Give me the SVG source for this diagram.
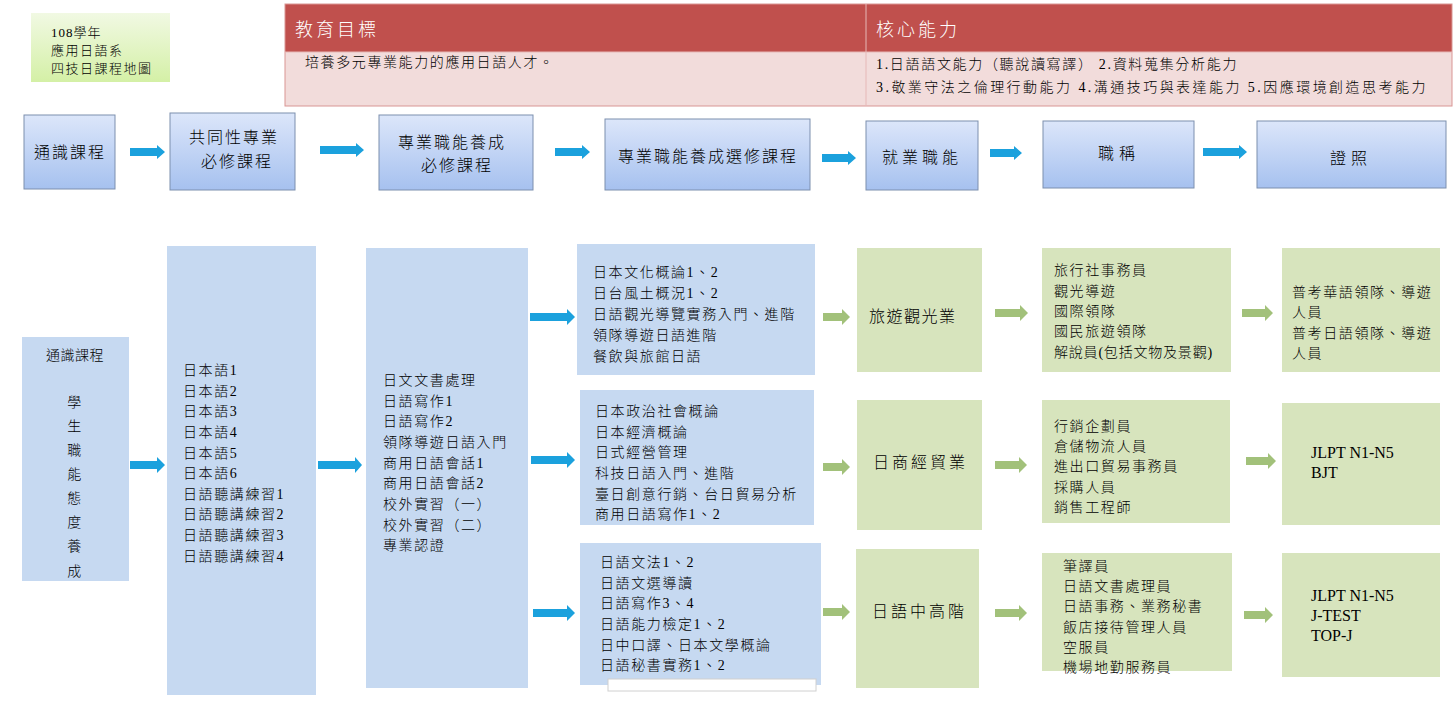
<svg xmlns="http://www.w3.org/2000/svg" width="1455" height="705" viewBox="0 0 1455 705">
<defs>
<linearGradient id="gBlue" x1="0" y1="0" x2="0" y2="1">
<stop offset="0" stop-color="#dce6fa"/>
<stop offset="1" stop-color="#a6c1ef"/>
</linearGradient>
<linearGradient id="gGreen" x1="0" y1="0" x2="0" y2="1">
<stop offset="0" stop-color="#f1f9e3"/>
<stop offset="1" stop-color="#d4f0a6"/>
</linearGradient>
<style>
text{font-family:"Liberation Serif","Noto Sans CJK TC",serif;fill:#000;font-weight:300}
.t{font-size:14px;letter-spacing:1.6px}
.big{font-size:16px;letter-spacing:2px}
.hd{font-size:18px;letter-spacing:3px;fill:#fff}
.top{fill:url(#gBlue);stroke:#7d8fae;stroke-width:1}
.pb{fill:#c6d9f1}
.pg{fill:#d7e4bd}
.ab{fill:#1ba1dd}
.ag{fill:#a2c17a}
.lat{font-size:16px;letter-spacing:0;font-weight:400}
</style>
</defs>
<rect width="1455" height="705" fill="#fff"/>

<g id="title">
<rect x="31" y="13" width="139" height="69" fill="url(#gGreen)"/>
<text x="51" y="37" style="font-size:13px;letter-spacing:1px">108學年</text>
<text x="51" y="55" style="font-size:13px;letter-spacing:1.5px">應用日語系</text>
<text x="51" y="73" style="font-size:13px;letter-spacing:1.5px">四技日課程地圖</text>
</g>

<g id="header">
<rect x="285" y="4" width="1167" height="48" fill="#c0504d"/>
<rect x="285" y="52" width="1167" height="54" fill="#f2dcdb"/>
<rect x="285" y="4" width="1167" height="102" fill="none" stroke="#d99694" stroke-width="1"/>
<line x1="285" y1="52" x2="1452" y2="52" stroke="#e6b8b7" stroke-width="1"/>
<line x1="866" y1="4" x2="866" y2="106" stroke="#e6b8b7" stroke-width="1"/>
<text class="hd" x="295" y="36">教育目標</text>
<text class="hd" x="876" y="36">核心能力</text>
<text class="t" x="305" y="67">培養多元專業能力的應用日語人才。</text>
<text class="t" x="876" y="69" textLength="362" lengthAdjust="spacing">1.日語語文能力（聽說讀寫譯） 2.資料蒐集分析能力</text>
<text class="t" x="876" y="92" textLength="551" lengthAdjust="spacing">3.敬業守法之倫理行動能力  4.溝通技巧與表達能力 5.因應環境創造思考能力</text>
</g>

<g id="n-general">
<rect class="top" x="24" y="115" width="91" height="74"/>
<text class="big" x="70" y="158" text-anchor="middle">通識課程</text>
</g>
<g id="n-common">
<rect class="top" x="170" y="113" width="125" height="77"/>
<text class="big" x="234" y="143" text-anchor="middle">共同性專業</text>
<text class="big" x="237" y="167" text-anchor="middle">必修課程</text>
</g>
<g id="n-req">
<rect class="top" x="379" y="115" width="154" height="75"/>
<text class="big" x="452" y="148" text-anchor="middle">專業職能養成</text>
<text class="big" x="457" y="171" text-anchor="middle">必修課程</text>
</g>
<g id="n-elec">
<rect class="top" x="605" y="119" width="205" height="71"/>
<text class="big" x="708" y="162" text-anchor="middle">專業職能養成選修課程</text>
</g>
<g id="n-job">
<rect class="top" x="866" y="121" width="112" height="69"/>
<text class="big" x="922" y="163" text-anchor="middle" style="letter-spacing:4px">就業職能</text>
</g>
<g id="n-title">
<rect class="top" x="1043" y="121" width="151" height="67"/>
<text class="big" x="1119" y="159" text-anchor="middle" style="letter-spacing:5px">職稱</text>
</g>
<g id="n-cert">
<rect class="top" x="1257" y="121" width="189" height="67"/>
<text class="big" x="1351" y="164" text-anchor="middle" style="letter-spacing:5px">證照</text>
</g>

<g id="c-general">
<rect class="pb" x="22" y="337" width="107" height="244"/>
<text class="t" x="75" y="360" text-anchor="middle" style="letter-spacing:0.5px">通識課程</text>
<g class="t" text-anchor="middle">
<text x="75" y="407">學</text>
<text x="75" y="431">生</text>
<text x="75" y="455">職</text>
<text x="75" y="479">能</text>
<text x="75" y="503">態</text>
<text x="75" y="527">度</text>
<text x="75" y="551">養</text>
<text x="75" y="576">成</text>
</g>
</g>

<g id="c-common">
<rect class="pb" x="167" y="246" width="149" height="449"/>
<g class="t">
<text x="183" y="375">日本語1</text>
<text x="183" y="396">日本語2</text>
<text x="183" y="416">日本語3</text>
<text x="183" y="437">日本語4</text>
<text x="183" y="458">日本語5</text>
<text x="183" y="478">日本語6</text>
<text x="183" y="499">日語聽講練習1</text>
<text x="183" y="519">日語聽講練習2</text>
<text x="183" y="540">日語聽講練習3</text>
<text x="183" y="561">日語聽講練習4</text>
</g>
</g>

<g id="c-req">
<rect class="pb" x="366" y="248" width="162" height="440"/>
<g class="t">
<text x="383" y="385">日文文書處理</text>
<text x="383" y="406">日語寫作1</text>
<text x="383" y="426">日語寫作2</text>
<text x="383" y="447">領隊導遊日語入門</text>
<text x="383" y="468">商用日語會話1</text>
<text x="383" y="488">商用日語會話2</text>
<text x="383" y="509">校外實習（一）</text>
<text x="383" y="530">校外實習（二）</text>
<text x="383" y="550">專業認證</text>
</g>
</g>

<g id="c-elec-tour">
<rect class="pb" x="577" y="244" width="238" height="131"/>
<g class="t">
<text x="593" y="277">日本文化概論1、2</text>
<text x="593" y="298">日台風土概況1、2</text>
<text x="593" y="319">日語觀光導覽實務入門、進階</text>
<text x="593" y="340">領隊導遊日語進階</text>
<text x="593" y="361">餐飲與旅館日語</text>
</g>
</g>
<g id="c-elec-trade">
<rect class="pb" x="580" y="390" width="234" height="135"/>
<g class="t">
<text x="595" y="416">日本政治社會概論</text>
<text x="595" y="437">日本經濟概論</text>
<text x="595" y="457">日式經營管理</text>
<text x="595" y="478">科技日語入門、進階</text>
<text x="595" y="499">臺日創意行銷、台日貿易分析</text>
<text x="595" y="519">商用日語寫作1、2</text>
</g>
</g>
<g id="c-elec-adv">
<rect class="pb" x="580" y="543" width="241" height="142"/>
<g class="t">
<text x="600" y="567">日語文法1、2</text>
<text x="600" y="588">日語文選導讀</text>
<text x="600" y="608">日語寫作3、4</text>
<text x="600" y="629">日語能力檢定1、2</text>
<text x="600" y="650">日中口譯、日本文學概論</text>
<text x="600" y="670">日語秘書實務1、2</text>
</g>
<rect x="608" y="679" width="208" height="12" fill="#fff" stroke="#d0d0d0" stroke-width="1"/>
</g>

<g id="j-tour">
<rect class="pg" x="857" y="248" width="125" height="124"/>
<text class="big" x="869" y="322" style="letter-spacing:1.5px">旅遊觀光業</text>
</g>
<g id="j-trade">
<rect class="pg" x="857" y="400" width="125" height="130"/>
<text class="big" x="873" y="468" style="letter-spacing:3px">日商經貿業</text>
</g>
<g id="j-adv">
<rect class="pg" x="856" y="549" width="123" height="139"/>
<text class="big" x="872" y="617" style="letter-spacing:3px">日語中高階</text>
</g>

<g id="t-tour">
<rect class="pg" x="1042" y="248" width="189" height="124"/>
<g class="t">
<text x="1054" y="275">旅行社事務員</text>
<text x="1054" y="296">觀光導遊</text>
<text x="1054" y="316">國際領隊</text>
<text x="1054" y="336">國民旅遊領隊</text>
<text x="1054" y="357" style="letter-spacing:0.8px">解說員(包括文物及景觀)</text>
</g>
</g>
<g id="t-trade">
<rect class="pg" x="1042" y="400" width="188" height="123"/>
<g class="t">
<text x="1054" y="431">行銷企劃員</text>
<text x="1054" y="451">倉儲物流人員</text>
<text x="1054" y="471">進出口貿易事務員</text>
<text x="1054" y="492">採購人員</text>
<text x="1054" y="512">銷售工程師</text>
</g>
</g>
<g id="t-adv">
<rect class="pg" x="1042" y="553" width="190" height="118"/>
<g class="t">
<text x="1063" y="571">筆譯員</text>
<text x="1063" y="591">日語文書處理員</text>
<text x="1063" y="611">日語事務、業務秘書</text>
<text x="1063" y="632">飯店接待管理人員</text>
<text x="1063" y="652">空服員</text>
<text x="1063" y="672">機場地勤服務員</text>
</g>
</g>

<g id="p-tour">
<rect class="pg" x="1282" y="248" width="158" height="124"/>
<g class="t">
<text x="1292" y="297">普考華語領隊、導遊</text>
<text x="1292" y="317">人員</text>
<text x="1292" y="338">普考日語領隊、導遊</text>
<text x="1292" y="358">人員</text>
</g>
</g>
<g id="p-trade">
<rect class="pg" x="1282" y="403" width="158" height="122"/>
<text class="lat" x="1311" y="458">JLPT N1-N5</text>
<text class="lat" x="1311" y="478">BJT</text>
</g>
<g id="p-adv">
<rect class="pg" x="1282" y="553" width="158" height="124"/>
<text class="lat" x="1311" y="601">JLPT N1-N5</text>
<text class="lat" x="1311" y="621">J-TEST</text>
<text class="lat" x="1311" y="641">TOP-J</text>
</g>

<g id="connectors">
<polygon class="ab" points="130,148 157,148 157,145 165,152 157,159 157,156 130,156"/>
<polygon class="ab" points="320,146 356,146 356,143 364,150 356,157 356,154 320,154"/>
<polygon class="ab" points="555,148 582,148 582,145 590,152 582,159 582,156 555,156"/>
<polygon class="ab" points="822,154 848,154 848,151 856,158 848,165 848,162 822,162"/>
<polygon class="ab" points="990,149 1014,149 1014,146 1022,153 1014,160 1014,157 990,157"/>
<polygon class="ab" points="1203,148 1239,148 1239,145 1247,152 1239,159 1239,156 1203,156"/>

<polygon class="ab" points="130,461 157,461 157,457 165,465 157,473 157,469 130,469"/>
<polygon class="ab" points="318,461 355,461 355,457 362,465 355,473 355,469 318,469"/>
<polygon class="ab" points="530,313 567,313 567,309 575,317 567,325 567,321 530,321"/>
<polygon class="ab" points="531,456 567,456 567,452 575,460 567,468 567,464 531,464"/>
<polygon class="ab" points="533,609 567,609 567,605 575,613 567,621 567,617 533,617"/>

<polygon class="ag" points="823,313 842,313 842,309 850,317 842,325 842,321 823,321"/>
<polygon class="ag" points="823,463 842,463 842,459 850,467 842,475 842,471 823,471"/>
<polygon class="ag" points="823,608 842,608 842,604 850,612 842,620 842,616 823,616"/>

<polygon class="ag" points="995,309 1020,309 1020,305 1028,313 1020,321 1020,317 995,317"/>
<polygon class="ag" points="995,461 1019,461 1019,457 1027,465 1019,473 1019,469 995,469"/>
<polygon class="ag" points="995,609 1019,609 1019,605 1027,613 1019,621 1019,617 995,617"/>

<polygon class="ag" points="1242,309 1265,309 1265,305 1273,313 1265,321 1265,317 1242,317"/>
<polygon class="ag" points="1246,457 1268,457 1268,453 1276,461 1268,469 1268,465 1246,465"/>
<polygon class="ag" points="1244,611 1265,611 1265,607 1273,615 1265,623 1265,619 1244,619"/>
</g>
</svg>
